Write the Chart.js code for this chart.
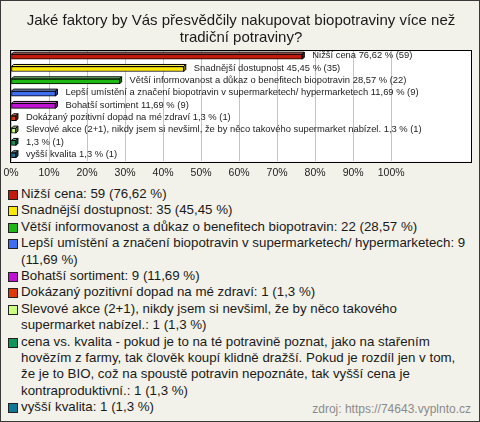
<!DOCTYPE html>
<html lang="cs">
<head>
    <meta charset="UTF-8" />
    <title>Biopotraviny</title>
    <script src="https://cdn.jsdelivr.net/npm/chart.js"></script>
    <style>
        body {
            margin: 0;
            padding: 0;
            background: #fff;
        }

        .frame {
            position: relative;
            width: 480px;
            height: 422px;
            box-sizing: border-box;
            border: 1px solid #3a3a3a;
            background: #f3f2ea;
            font-family: 'Liberation Sans', Arial, sans-serif;
            overflow: hidden;
        }

        #chart {
            position: absolute;
            left: -1px;
            top: -1px;
        }

        .legend {
            position: absolute;
            left: 7px;
            top: 185px;
            width: 463px;
            font-size: 13.3px;
            line-height: 16.4px;
            color: #1a1a1a;
        }

        .legend div {
            position: relative;
            padding-left: 13px;
        }

        /* the original wraps this one a bit earlier */
        .legend div:nth-child(7) {
            width: 438px;
        }

        .legend span {
            position: absolute;
            left: 0;
            top: 4px;
            width: 8px;
            height: 8px;
            border: 1px solid #222;
        }

        .source {
            position: absolute;
            right: 8px;
            bottom: 5px;
            font-size: 12px;
            color: #8a8a8a;
        }
    </style>
</head>
<body>
    <div class="frame">
        <canvas id="chart" width="480" height="182"></canvas>
        <div class="legend" id="legend"></div>
        <div class="source">zdroj: https://74643.vyplnto.cz</div>
    </div>

    <script>
        const titleLines = ['Jaké faktory by Vás přesvědčily nakupovat biopotraviny více než', 'tradiční potraviny?'];

        const categories = [
            'Nižší cena',
            'Snadnější dostupnost',
            'Větší informovanost a důkaz o benefitech biopotravin',
            'Lepší umístění a značení biopotravin v supermarketech/ hypermarketech',
            'Bohatší sortiment',
            'Dokázaný pozitivní dopad na mé zdraví',
            'Slevové akce (2+1), nikdy jsem si nevšiml, že by něco takového supermarket nabízel.',
            'cena vs. kvalita - pokud je to na té potravině poznat, jako na stařením hovězím z farmy, tak člověk koupí klidně dražší. Pokud je rozdíl jen v tom, že je to BIO, což na spoustě potravin nepoznáte, tak vyšší cena je kontraproduktivní.',
            'vyšší kvalita'
        ];
        // text shown next to the bars (the long answer has no name there)
        const barNames = [
            'Nižší cena',
            'Snadnější dostupnost',
            'Větší informovanost a důkaz o benefitech biopotravin',
            'Lepší umístění a značení biopotravin v supermarketech/ hypermarketech',
            'Bohatší sortiment',
            'Dokázaný pozitivní dopad na mé zdraví',
            'Slevové akce (2+1), nikdy jsem si nevšiml, že by něco takového supermarket nabízel.',
            '',
            'vyšší kvalita'
        ];
        const counts = [59, 35, 22, 9, 9, 1, 1, 1, 1];
        const percents = [76.62, 45.45, 28.57, 11.69, 11.69, 1.3, 1.3, 1.3, 1.3];
        const colors = ['#c21a0c', '#ffe800', '#1fb716', '#3f6ff0', '#c012d2', '#dd3a06', '#ccff80', '#10955a', '#127796'];
        const tickValues = [0, 10, 20, 30, 40, 50, 60, 70, 80, 90, 100];

        const fmt = v => String(v).replace('.', ',');

        function shade(hex, amt) {
            const n = parseInt(hex.slice(1), 16);
            let r = n >> 16, g = (n >> 8) & 255, b = n & 255;
            const t = amt > 0 ? 255 : 0, p = Math.abs(amt);
            r = Math.round(r + (t - r) * p);
            g = Math.round(g + (t - g) * p);
            b = Math.round(b + (t - b) * p);
            return `rgb(${r},${g},${b})`;
        }

        // white plot background + black frame
        const plotFrame = {
            id: 'plotFrame',
            beforeDraw(chart) {
                const a = chart.chartArea, ctx = chart.ctx;
                ctx.save();
                ctx.fillStyle = '#ffffff';
                ctx.fillRect(a.left, a.top, a.right - a.left, a.bottom - a.top);
                ctx.restore();
            },
            afterDraw(chart) {
                const a = chart.chartArea, ctx = chart.ctx;
                ctx.save();
                ctx.strokeStyle = '#000';
                ctx.lineWidth = 1;
                ctx.strokeRect(Math.round(a.left) - 0.5, Math.round(a.top) - 0.5,
                    Math.round(a.right - a.left) + 1, Math.round(a.bottom - a.top) + 1);
                ctx.restore();
            }
        };

        // fake 3d top + side faces and the value labels
        const bar3d = {
            id: 'bar3d',
            afterDatasetsDraw(chart) {
                const ctx = chart.ctx;
                const d = 2;
                chart.getDatasetMeta(0).data.forEach((bar, i) => {
                    const p = bar.getProps(['x', 'y', 'base', 'height'], true);
                    const top = p.y - p.height / 2;
                    const bottom = p.y + p.height / 2;
                    ctx.save();
                    ctx.lineWidth = 1;
                    ctx.strokeStyle = '#000';
                    ctx.lineJoin = 'miter';

                    ctx.beginPath();
                    ctx.moveTo(p.base, top);
                    ctx.lineTo(p.base + d, top - d);
                    ctx.lineTo(p.x + d, top - d);
                    ctx.lineTo(p.x, top);
                    ctx.closePath();
                    ctx.fillStyle = shade(colors[i], 0.35);
                    ctx.fill();
                    ctx.stroke();

                    ctx.beginPath();
                    ctx.moveTo(p.x, top);
                    ctx.lineTo(p.x + d, top - d);
                    ctx.lineTo(p.x + d, bottom - d);
                    ctx.lineTo(p.x, bottom);
                    ctx.closePath();
                    ctx.fillStyle = shade(colors[i], -0.35);
                    ctx.fill();
                    ctx.stroke();

                    const name = barNames[i] ? barNames[i] + ' ' : '';
                    ctx.fillStyle = '#222';
                    ctx.font = "9.4px 'Liberation Sans', Arial, sans-serif";
                    ctx.textBaseline = 'middle';
                    ctx.fillText(name + fmt(percents[i]) + ' % (' + counts[i] + ')', p.x + 10, p.y - 1);
                    ctx.restore();
                });
            }
        };

        const ctx = document.getElementById('chart').getContext('2d');

        const chart = new Chart(ctx, {
            type: 'bar',
            data: {
                labels: categories,
                datasets: [{
                    data: percents,
                    backgroundColor: colors,
                    borderColor: '#000',
                    borderWidth: 1,
                    borderSkipped: false,
                    barThickness: 5
                }]
            },
            options: {
                indexAxis: 'y',
                responsive: false,
                animation: false,
                layout: {
                    padding: { left: 11, right: 9, top: 0, bottom: 3 }
                },
                plugins: {
                    legend: { display: false },
                    tooltip: { enabled: false },
                    title: {
                        display: true,
                        text: titleLines,
                        color: '#1a1a1a',
                        font: { family: "'Liberation Sans', Arial, sans-serif", size: 15, weight: 'normal', lineHeight: 1.15 },
                        padding: { top: 12, bottom: 4 }
                    }
                },
                scales: {
                    x: {
                        min: 0,
                        max: 121,
                        afterBuildTicks: axis => {
                            axis.ticks = tickValues.map(v => ({ value: v }));
                        },
                        grid: { color: '#c4c4c4', drawTicks: true, tickLength: 5, tickColor: 'rgba(0,0,0,0)' },
                        border: { display: false },
                        ticks: {
                            padding: 0,
                            color: '#222',
                            font: { family: "'Liberation Sans', Arial, sans-serif", size: 10.5 },
                            maxRotation: 0,
                            callback: v => v + '%'
                        }
                    },
                    y: {
                        display: false
                    }
                }
            },
            plugins: [plotFrame, bar3d]
        });

        // legend below the chart
        const legend = document.getElementById('legend');
        categories.forEach((name, i) => {
            const row = document.createElement('div');
            const box = document.createElement('span');
            box.style.background = colors[i];
            row.appendChild(box);
            row.appendChild(document.createTextNode(name + ': ' + counts[i] + ' (' + fmt(percents[i]) + ' %)'));
            legend.appendChild(row);
        });
    </script>
</body>
</html>
